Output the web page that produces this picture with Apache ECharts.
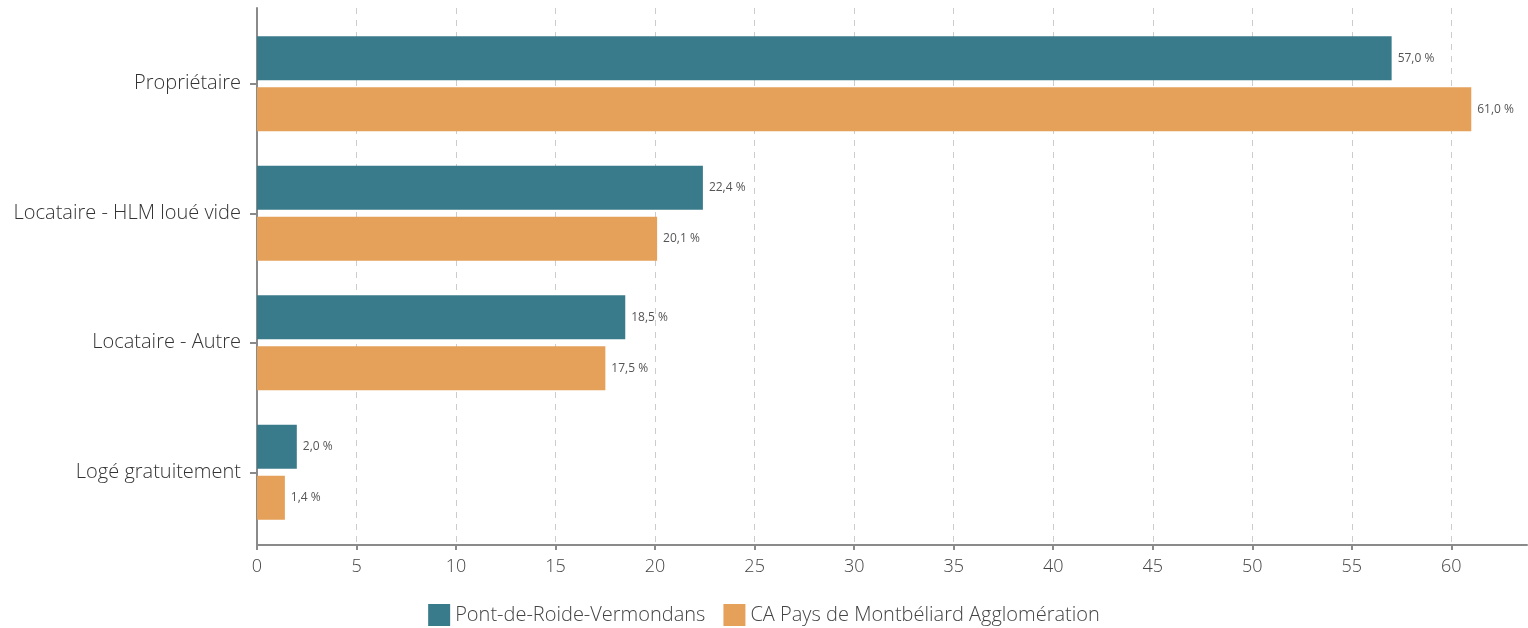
<!DOCTYPE html>
<html>
<head>
<meta charset="utf-8">
<script src="https://cdn.jsdelivr.net/npm/echarts@6/dist/echarts.min.js"></script>
<style>
  html, body { margin: 0; padding: 0; background: #fff; }
  #chart { width: 1528px; height: 628px; }
</style>
</head>
<body>
<div id="chart"></div>
<script>
// données
const categories = ['Propriétaire', 'Locataire - HLM loué vide', 'Locataire - Autre', 'Logé gratuitement']
const seriesNames = ['Pont-de-Roide-Vermondans', 'CA Pays de Montbéliard Agglomération']
const pontValues = [57.0, 22.4, 18.5, 2.0]
const caValues = [61.0, 20.1, 17.5, 1.4]
const xTicks = [0, 5, 10, 15, 20, 25, 30, 35, 40, 45, 50, 55, 60]

const FONT = 'Open Sans'
const AXIS_COLOR = '#8a8a8a'
const xMax = 63.8 // l'axe s'arrête au bord droit, sans graduation

const myChart = echarts.init(document.getElementById('chart'))

const fmt = (p) => p.value.toFixed(1).replace('.', ',') + ' %'

myChart.setOption({
  animation: false,
  textStyle: { fontFamily: FONT },
  // grid 0 : cadre (axe x, lignes verticales, ligne de l'axe y)
  // grid 1 : barres (catégories un peu en retrait en haut et en bas)
  grid: [
    { left: 257, top: 8, right: 1, height: 537 },
    { left: 257, top: 19, right: 1, height: 518 }
  ],
  legend: {
    bottom: -3,
    left: 'center',
    itemWidth: 22,
    itemHeight: 22,
    itemGap: 18,
    icon: 'rect',
    textStyle: { color: '#444', fontSize: 20, fontFamily: FONT, fontWeight: 300 },
    data: seriesNames
  },
  xAxis: [
    {
      gridIndex: 0,
      type: 'value',
      min: 0,
      max: xMax,
      interval: 5,
      axisLine: { show: true, lineStyle: { color: AXIS_COLOR, width: 2 } },
      axisTick: { show: true, length: 5, lineStyle: { color: AXIS_COLOR, width: 2 } },
      axisLabel: {
        color: '#444',
        fontSize: 18,
        fontWeight: 300,
        margin: 13,
        showMaxLabel: false,
        formatter: (v) => (xTicks.indexOf(v) >= 0 ? String(v) : '')
      },
      splitLine: { show: true, showMaxLine: false, lineStyle: { color: '#cccccc', type: [6, 6], width: 1 } }
    },
    {
      gridIndex: 1,
      type: 'value',
      min: 0,
      max: xMax,
      show: false
    }
  ],
  yAxis: [
    {
      gridIndex: 0,
      type: 'value',
      axisLine: { show: true, lineStyle: { color: AXIS_COLOR, width: 2 } },
      axisTick: { show: false },
      axisLabel: { show: false },
      splitLine: { show: false }
    },
    {
      gridIndex: 1,
      type: 'category',
      inverse: true,
      data: categories,
      axisLine: { show: false },
      axisTick: { show: true, alignWithLabel: true, length: 7, lineStyle: { color: AXIS_COLOR, width: 2 } },
      axisLabel: { color: '#333', fontSize: 20, fontWeight: 300, margin: 16 }
    }
  ],
  series: [
    {
      name: seriesNames[0],
      type: 'bar',
      xAxisIndex: 1,
      yAxisIndex: 1,
      data: pontValues,
      barWidth: 44,
      barGap: '16%',
      itemStyle: { color: '#3a7b8b' },
      label: {
        show: true,
        position: 'right',
        distance: 6,
        color: '#555',
        fontSize: 12,
        fontFamily: FONT,
        formatter: fmt
      }
    },
    {
      name: seriesNames[1],
      type: 'bar',
      xAxisIndex: 1,
      yAxisIndex: 1,
      data: caValues,
      barWidth: 44,
      barGap: '16%',
      itemStyle: { color: '#e5a05a' },
      label: {
        show: true,
        position: 'right',
        distance: 6,
        color: '#555',
        fontSize: 12,
        fontFamily: FONT,
        formatter: fmt
      }
    }
  ]
})
</script>
</body>
</html>
